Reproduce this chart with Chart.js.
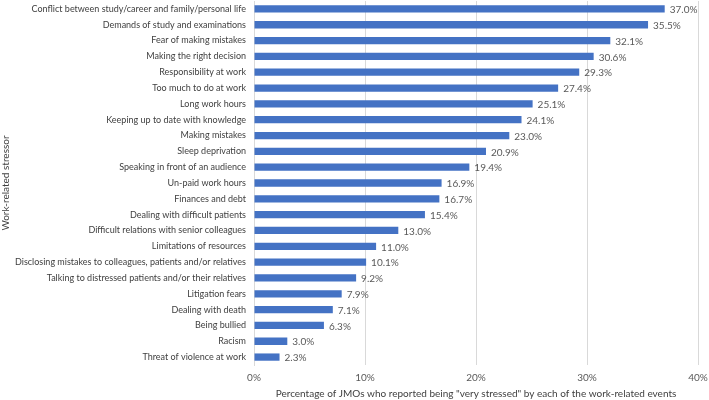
<!DOCTYPE html>
<html>
<head>
<meta charset="utf-8">
<script src="https://cdn.jsdelivr.net/npm/chart.js@4/dist/chart.umd.min.js"></script>
<style>
  html, body { margin: 0; padding: 0; background: #fff; }
  #wrap { width: 709px; height: 400px; }
</style>
</head>
<body>
<div id="wrap"><canvas id="stressChart"></canvas></div>
<script>
const stressors = [
    'Conflict between study/career and family/personal life',
    'Demands of study and examinations',
    'Fear of making mistakes',
    'Making the right decision',
    'Responsibility at work',
    'Too much to do at work',
    'Long work hours',
    'Keeping up to date with knowledge',
    'Making mistakes',
    'Sleep deprivation',
    'Speaking in front of an audience',
    'Un-paid work hours',
    'Finances and debt',
    'Dealing with difficult patients',
    'Difficult relations with senior colleagues',
    'Limitations of resources',
    'Disclosing mistakes to colleagues, patients and/or relatives',
    'Talking to distressed patients and/or their relatives',
    'Litigation fears',
    'Dealing with death',
    'Being bullied',
    'Racism',
    'Threat of violence at work'
];
const veryStressed = [37.0, 35.5, 32.1, 30.6, 29.3, 27.4, 25.1, 24.1, 23.0, 20.9, 19.4, 16.9, 16.7, 15.4, 13.0, 11.0, 10.1, 9.2, 7.9, 7.1, 6.3, 3.0, 2.3];
const xTicks = [0, 10, 20, 30, 40];

const fontFamily = 'Lato, "Noto Sans", sans-serif';
const textColor = '#595959';

// draws the "37.0%" labels just past the end of each bar
const barLabels = {
    id: 'barLabels',
    afterDatasetsDraw(chart) {
        const c = chart.ctx;
        const meta = chart.getDatasetMeta(0);
        c.save();
        c.font = '10px ' + fontFamily;
        c.fillStyle = textColor;
        c.textAlign = 'left';
        c.textBaseline = 'middle';
        meta.data.forEach((bar, i) => {
            c.fillText(veryStressed[i].toFixed(1) + '%', bar.x + 5, bar.y + 1);
        });
        c.restore();
    }
};

const ctx = document.getElementById('stressChart').getContext('2d');
const stressChart = new Chart(ctx, {
    type: 'bar',
    data: {
        labels: stressors,
        datasets: [{
            data: veryStressed,
            backgroundColor: '#4472C4',
            borderWidth: 0,
            categoryPercentage: 1.0,
            barPercentage: 0.46
        }]
    },
    options: {
        indexAxis: 'y',
        responsive: true,
        maintainAspectRatio: false,
        animation: false,
        layout: { padding: { left: 0, right: 0, top: 1, bottom: 0 } },
        plugins: {
            legend: { display: false },
            tooltip: { enabled: false }
        },
        scales: {
            x: {
                min: 0,
                max: 40,
                afterBuildTicks(scale) {
                    scale.ticks = xTicks.map(v => ({ value: v }));
                },
                afterFit(scale) {
                    scale.height = 35;
                    scale.paddingLeft = 0;
                    scale.paddingRight = 11;
                },
                grid: { color: '#d9d9d9', drawTicks: false },
                border: { display: false },
                ticks: {
                    color: textColor,
                    padding: 7,
                    font: { family: fontFamily, size: 10 },
                    callback: v => v + '%'
                },
                title: {
                    display: true,
                    text: 'Percentage of JMOs who reported being "very stressed" by each of the work-related events',
                    color: '#404040',
                    padding: { top: 2, bottom: 0 },
                    font: { family: fontFamily, size: 10 }
                }
            },
            y: {
                afterFit(scale) {
                    scale.width = 254;
                    scale.paddingTop = 0;
                    scale.paddingBottom = 0;
                },
                grid: { display: false, drawTicks: false },
                border: { display: true, color: '#d9d9d9' },
                ticks: {
                    color: '#404040',
                    padding: 8,
                    autoSkip: false,
                    font: { family: fontFamily, size: 9 }
                },
                title: {
                    display: true,
                    text: 'Work-related stressor',
                    color: '#404040',
                    padding: { top: 0, bottom: 0 },
                    font: { family: fontFamily, size: 10 }
                }
            }
        }
    },
    plugins: [barLabels]
});
</script>
</body>
</html>
